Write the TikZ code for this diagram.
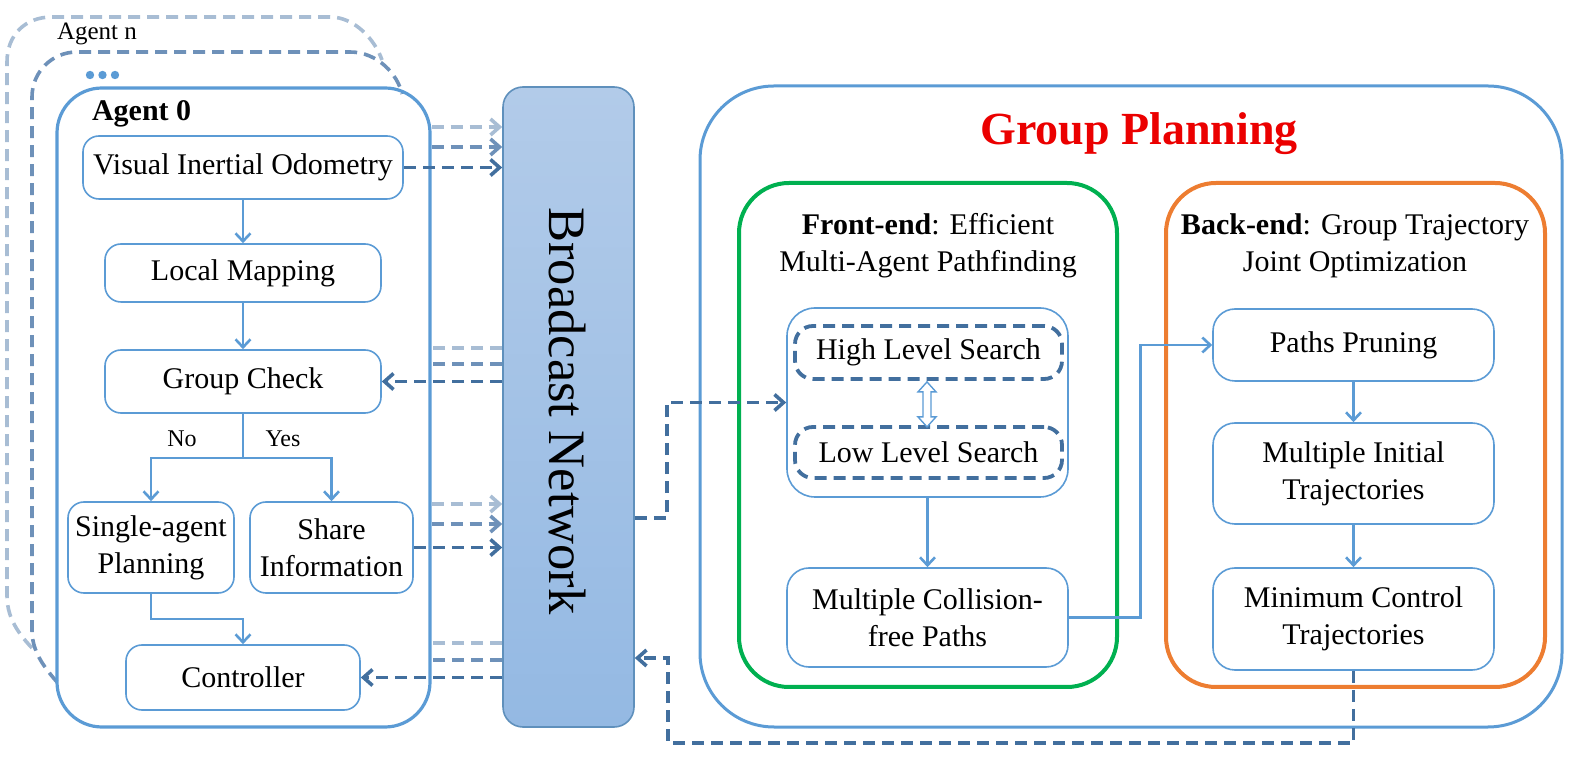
\documentclass[tikz,border=0pt]{standalone}
\usepackage{fontspec}
\setmainfont{Liberation Serif}
\usetikzlibrary{arrows.meta,calc}
\definecolor{bl}{RGB}{91,155,213}
\definecolor{dl}{RGB}{168,189,212}
\definecolor{dm}{RGB}{110,145,185}
\definecolor{dd}{RGB}{66,111,158}
\definecolor{gr}{RGB}{0,176,80}
\definecolor{orng}{RGB}{237,125,49}
\definecolor{bctop}{RGB}{178,203,233}
\definecolor{bcbot}{RGB}{148,185,227}
\definecolor{gpred}{RGB}{235,0,0}
\begin{document}
\begin{tikzpicture}[x=0.5pt,y=-0.5pt,
  font=\fontsize{15}{18.5}\selectfont,
  box/.style={draw=bl, line width=0.8pt, rounded corners=8pt, align=center, inner sep=0pt},
  gbox/.style={draw=bl, line width=0.8pt, rounded corners=11pt, align=center, inner sep=0pt},
  dbox/.style={draw=dd, line width=1.9pt, dash pattern=on 6pt off 3.5pt, rounded corners=9pt, align=center, inner sep=0pt},
  sa/.style={draw=bl, line width=1.3pt, -{Straight Barb[length=4pt,width=7.5pt]}},
  sl/.style={draw=bl, line width=1.3pt},
  dsh/.style={line width=1.8pt, dash pattern=on 6pt off 3.5pt},
  da/.style={dsh, -{Straight Barb[length=4.5pt,width=8pt]}},
  frame/.style={line width=1.8pt, dash pattern=on 6pt off 3.5pt}]
\useasboundingbox (0,0) rectangle (1580,758);

% stacked agent frames
\draw[frame, dl] (32,648) .. controls (15,630) and (7,615) .. (7,595) -- (7,62)
  .. controls (7,35) and (25,17) .. (52,17) -- (330,17)
  .. controls (355,17) and (375,40) .. (382,60);
\draw[frame, dm] (57,682) .. controls (42,665) and (32,650) .. (32,630) -- (32,97)
  .. controls (32,72) and (52,52) .. (77,52) -- (350,52)
  .. controls (378,52) and (398,75) .. (402,94);
\node[font=\fontsize{12.5}{14}\selectfont, anchor=west] (agn) at (50,34) {Agent n};
\foreach \i/\xx in {1/90,2/102.5,3/115} \fill[bl] (\xx,75) circle (4.2);

% Agent 0
\node[draw=bl, line width=1.6pt, rounded corners=22.5pt, minimum width=186.5pt, minimum height=319.5pt] (ag0) at (243.5,407.5) {};
\node[font=\fontsize{15}{18.5}\selectfont\bfseries, anchor=west] (ag0t) at (85,114) {Agent 0};

\node[box, minimum width=160pt, minimum height=31.5pt] (vio) at (243,167.5) {Visual Inertial Odometry};
\node[box, minimum width=138pt, minimum height=29pt] (lm) at (243,273) {Local Mapping};
\node[box, minimum width=138pt, minimum height=31.5pt] (gc) at (243,381.5) {Group Check};
\node[box, minimum width=83pt, minimum height=45.5pt] (sap) at (151,547.5) {Single-agent\\Planning};
\node[box, minimum width=81.5pt, minimum height=45.5pt] (si) at (331.5,547.5) {Share\\Information};
\node[box, minimum width=117pt, minimum height=32.5pt] (ctrl) at (243,677.5) {Controller};
\node[font=\fontsize{12}{14}\selectfont] (no) at (182,439) {No};
\node[font=\fontsize{12}{14}\selectfont] (yes) at (283,439) {Yes};

\draw[sa] (vio.south) -- (lm.north);
\draw[sa] (lm.south) -- (gc.north);
\draw[sl] (gc.south) -- (243,458) coordinate (br);
\draw[sa] (br) -| (sap.north);
\draw[sa] (br) -| (si.north);
\draw[sa] (sap.south) -- (151,619) -| (ctrl.north);

% Broadcast network
\node[draw=bl!85!black!90, line width=0.8pt, rounded corners=10pt, top color=bctop, bottom color=bcbot, minimum width=65.5pt, minimum height=320pt] (bc) at (568.5,407) {};
\node[rotate=-90, font=\fontsize{26.3}{30}\selectfont] (bct) at (567,411) {Broadcast Network};

% dashed links agent <-> broadcast
\draw[da, dl] (ag0.east |- 0,127) -- (bc.west |- 0,127);
\draw[da, dm] (ag0.east |- 0,147) -- (bc.west |- 0,147);
\draw[da, dd] (vio.east) -- (bc.west |- vio.east);

\draw[dsh, dl] (bc.west |- 0,348) -- (ag0.east |- 0,348);
\draw[dsh, dm] (bc.west |- 0,364) -- (ag0.east |- 0,364);
\draw[da, dd] (bc.west |- gc.east) -- (gc.east);

\draw[da, dl] (ag0.east |- 0,504) -- (bc.west |- 0,504);
\draw[da, dm] (ag0.east |- 0,524) -- (bc.west |- 0,524);
\draw[da, dd] (si.east) -- (bc.west |- si.east);

\draw[dsh, dl] (bc.west |- 0,643) -- (ag0.east |- 0,643);
\draw[dsh, dm] (bc.west |- 0,660) -- (ag0.east |- 0,660);
\draw[da, dd] (bc.west |- ctrl.east) -- (ctrl.east);

% Group planning
\node[draw=bl, line width=1.5pt, rounded corners=37pt, minimum width=431pt, minimum height=320.5pt] (gp) at (1131,406.5) {};
\node[text=gpred, font=\fontsize{23}{26}\selectfont\bfseries] (gpt) at (1139,134) {Group Planning};

\node[draw=gr, line width=2pt, rounded corners=25pt, minimum width=189pt, minimum height=252pt] (fe) at (928,435) {};
\node[draw=orng, line width=2pt, rounded corners=25pt, minimum width=189.5pt, minimum height=252pt] (be) at (1355.5,435) {};
\node[align=center] (fet) at (928,246) {\textbf{Front-end}: Efficient\\Multi-Agent Pathfinding};
\node[align=center] (bet) at (1355,246) {\textbf{Back-end}: Group Trajectory\\Joint Optimization};

\node[gbox, rounded corners=14pt, minimum width=140.5pt, minimum height=94.5pt] (fei) at (927.5,402.5) {};
\node[dbox, minimum width=133.5pt, minimum height=26.5pt] (hls) at (928.5,352.5) {High Level Search};
\node[dbox, minimum width=133.5pt, minimum height=25.5pt] (lls) at (928.5,452.5) {Low Level Search};
\draw[draw=bl, fill=white, line width=0.7pt] ($(hls.south)+(-1.5,1)$) coordinate (dat) -- ++(9,10) -- ++(-5,0) -- ++(0,25) -- ++(5,0) -- ++(-9,10) -- ++(-9,-10) -- ++(5,0) -- ++(0,-25) -- ++(-5,0) -- cycle;
\node[gbox, minimum width=140.5pt, minimum height=49.5pt] (mcp) at (927.5,617.5) {Multiple Collision-\\free Paths};
\draw[sa] (fei.south) -- (mcp.north);

\node[gbox, minimum width=140.5pt, minimum height=36pt] (pp) at (1353.5,345) {Paths Pruning};
\node[gbox, minimum width=140.5pt, minimum height=50.5pt] (mit) at (1353.5,473.5) {Multiple Initial\\Trajectories};
\node[gbox, minimum width=140.5pt, minimum height=51pt] (minc) at (1353.5,619) {Minimum Control\\Trajectories};
\draw[sa] (pp.south) -- (mit.north);
\draw[sa] (mit.south) -- (minc.north);

\draw[draw=bl, line width=1.3pt, -{Straight Barb[length=4pt,width=7.5pt]}] (mcp.east) -| ($(pp.west)+(-72,0)$) -- (pp.west);

\draw[da, dd] (bc.east |- 0,518) -- (667,518) |- (fei.west);
\draw[da, dd] (minc.south) |- (668,743) -- (668,658) -- (bc.east |- 0,658);
\end{tikzpicture}
\end{document}
